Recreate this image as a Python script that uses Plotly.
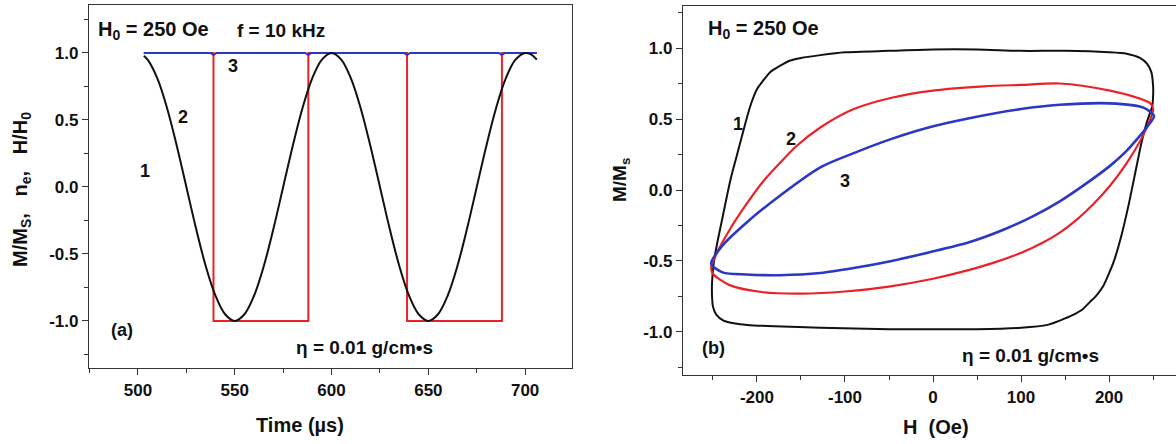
import plotly.graph_objects as go

# ---------------- Panel (a): time traces ----------------
time_black = [503, 505, 510, 515, 520, 525, 530, 535, 540, 545, 550, 555, 560, 565, 570,
              575, 580, 585, 590, 595, 600, 605, 610, 615, 620, 625, 630, 635, 640, 645,
              650, 655, 660, 665, 670, 675, 680, 685, 690, 695, 700, 703, 706]
m_black = [0.98, 0.95, 0.81, 0.59, 0.31, 0.00, -0.31, -0.59, -0.81, -0.95, -1.00, -0.95, -0.81, -0.59, -0.31,
           0.00, 0.31, 0.59, 0.81, 0.95, 1.00, 0.95, 0.81, 0.59, 0.31, 0.00, -0.31, -0.59, -0.81, -0.95,
           -1.00, -0.95, -0.81, -0.59, -0.31, 0.00, 0.31, 0.59, 0.81, 0.95, 1.00, 0.99, 0.95]

time_red = [503, 539, 539, 588, 588, 639, 639, 688, 688, 706]
ne_red = [1, 1, -1, -1, 1, 1, -1, -1, 1, 1]

time_blue = [503, 537.5, 539, 540.5, 586.5, 588, 589.5, 637.5, 639, 640.5, 686.5, 688, 689.5, 706]
h_blue = [1.0, 1.0, 0.985, 1.0, 1.0, 0.985, 1.0, 1.0, 0.985, 1.0, 1.0, 0.985, 1.0, 1.0]

time_ticks = [500, 550, 600, 650, 700]
time_tick_text = ["500", "550", "600", "650", "700"]
y_ticks = [-1.0, -0.5, 0.0, 0.5, 1.0]
y_tick_text = ["-1.0", "-0.5", "0.0", "0.5", "1.0"]

# ---------------- Panel (b): hysteresis loops ----------------
h_loop1 = [250, 248, 243, 235, 220, 200, 150, 100, 50, 0, -50, -100, -128, -150, -163, -175,
           -185, -193, -200, -206, -211, -217, -223, -229, -234, -240, -245, -249, -251, -251,
           -250, -246, -238, -225, -211, -180, -128, -50, 0, 50, 100, 130, 144, 159, 170, 178,
           186, 193, 205, 214, 222, 230, 237, 243, 249, 250, 250]
m_loop1 = [0.73, 0.83, 0.89, 0.93, 0.96, 0.97, 0.98, 0.98, 0.99, 0.99, 0.98, 0.97, 0.95, 0.93, 0.91, 0.87,
           0.83, 0.77, 0.71, 0.62, 0.52, 0.38, 0.24, 0.10, -0.04, -0.22, -0.37, -0.51, -0.65, -0.75,
           -0.82, -0.88, -0.92, -0.94, -0.95, -0.96, -0.97, -0.98, -0.98, -0.98, -0.97, -0.95, -0.92, -0.88, -0.84, -0.79,
           -0.74, -0.68, -0.51, -0.32, -0.11, 0.13, 0.34, 0.48, 0.59, 0.66, 0.73]

h_loop2 = [250, 247, 232, 201, 144, 100, 58, 0, -47, -90, -128, -155, -174, -193, -212, -231,
           -246, -252, -250, -231, -193, -150, -100, -50, 0, 37, 70, 101, 125, 144, 163,
           182, 201, 220, 239, 250]
m_loop2 = [0.57, 0.61, 0.65, 0.70, 0.75, 0.74, 0.73, 0.70, 0.65, 0.57, 0.44, 0.31, 0.19, 0.06, -0.10, -0.28,
           -0.45, -0.55, -0.59, -0.67, -0.72, -0.73, -0.715, -0.68, -0.625, -0.57, -0.51, -0.44, -0.37, -0.30, -0.21,
           -0.10, 0.03, 0.19, 0.39, 0.57]

h_loop3 = [251, 239, 201, 144, 100, 37, -5, -47, -90, -128, -174, -212, -239, -252,
           -239, -212, -174, -128, -90, -47, -5, 40, 80, 115, 144, 175, 201, 219, 232, 245, 251]
m_loop3 = [0.52, 0.58, 0.61, 0.60, 0.57, 0.50, 0.44, 0.36, 0.26, 0.16, -0.04, -0.23, -0.39, -0.52,
           -0.58, -0.595, -0.60, -0.585, -0.55, -0.50, -0.44, -0.37, -0.28, -0.18, -0.08, 0.05, 0.17, 0.27, 0.36, 0.46, 0.52]

h_ticks = [-200, -100, 0, 100, 200]
h_tick_text = ["-200", "-100", "0", "100", "200"]

W, H = 1176, 444
BLACK, RED, BLUE = "#111111", "#ea2228", "#2a38c4"
FONT = "Liberation Sans"

fig = go.Figure()
fig.add_trace(go.Scatter(x=time_red, y=ne_red, mode="lines", line=dict(color=RED, width=2),
                         xaxis="x", yaxis="y", showlegend=False))
fig.add_trace(go.Scatter(x=time_blue, y=h_blue, mode="lines", line=dict(color=BLUE, width=2),
                         xaxis="x", yaxis="y", showlegend=False))
fig.add_trace(go.Scatter(x=time_black, y=m_black, mode="lines", line=dict(color=BLACK, width=2, shape="spline"),
                         xaxis="x", yaxis="y", showlegend=False))

fig.add_trace(go.Scatter(x=h_loop1, y=m_loop1, mode="lines", line=dict(color=BLACK, width=2, shape="spline", smoothing=0.6),
                         xaxis="x2", yaxis="y2", showlegend=False))
fig.add_trace(go.Scatter(x=h_loop2, y=m_loop2, mode="lines", line=dict(color=RED, width=2.2, shape="spline", smoothing=0.8),
                         xaxis="x2", yaxis="y2", showlegend=False))
fig.add_trace(go.Scatter(x=h_loop3, y=m_loop3, mode="lines", line=dict(color=BLUE, width=2.6, shape="spline", smoothing=0.8),
                         xaxis="x2", yaxis="y2", showlegend=False))

tickfont = dict(family=FONT, size=17, color="#111", weight="bold")
axis_common = dict(showgrid=False, zeroline=False, showline=True, linecolor="#333", linewidth=1.3,
                   mirror=True, ticks="outside", ticklen=6, tickwidth=1.2, tickcolor="#333",
                   tickfont=tickfont)
minor_style = dict(ticklen=4, ticks="outside", tickcolor="#333")

fig.update_layout(
    width=W, height=H, margin=dict(l=0, r=0, t=0, b=0),
    paper_bgcolor="white", plot_bgcolor="white",
    xaxis=dict(domain=[89 / W, 572 / W], range=[474.7, 724.2], tickvals=time_ticks, ticktext=time_tick_text,
               minor=dict(dtick=25, tick0=0, **minor_style), anchor="y", **axis_common),
    yaxis=dict(domain=[1 - 368 / H, 1 - 5 / H], range=[-1.351, 1.358], tickvals=y_ticks, ticktext=y_tick_text,
               minor=dict(dtick=0.25, tick0=0, **minor_style), anchor="x", **axis_common),
    xaxis2=dict(domain=[683 / W, 1.0], range=[-284, 276], tickvals=h_ticks, ticktext=h_tick_text,
                minor=dict(dtick=50, tick0=0, **minor_style), anchor="y2", **axis_common),
    yaxis2=dict(domain=[1 - 375 / H, 1 - 6 / H], range=[-1.303, 1.296], tickvals=y_ticks, ticktext=y_tick_text,
                minor=dict(dtick=0.25, tick0=0, **minor_style), anchor="x2", **axis_common),
)


def px(x, y):
    return x / W, 1 - y / H


def label(text, x, y, size=18, xanchor="center", angle=0):
    ax, ay = px(x, y)
    fig.add_annotation(text=text, x=ax, y=ay, xref="paper", yref="paper", showarrow=False,
                       xanchor=xanchor, yanchor="middle", textangle=angle,
                       font=dict(family=FONT, size=size, color="#111", weight="bold"))


# Panel (a) texts
label("H<sub>0</sub> = 250 Oe", 96, 31, size=20, xanchor="left")
label("f = 10 kHz", 235, 31, size=19, xanchor="left")
label("3", 233, 66)
label("2", 183, 117)
label("1", 145, 171)
label("(a)", 122, 330)
label("η = 0.01 g/cm•s", 294, 347, size=19, xanchor="left")
label("Time (µs)", 300, 425, size=20)
label("M/M<sub>S</sub>,   n<sub>e</sub>,   H/H<sub>0</sub>", 21, 190, size=20, angle=-90)

# Panel (b) texts
label("H<sub>0</sub> = 250 Oe", 706, 29, size=20, xanchor="left")
label("1", 738, 124)
label("2", 791, 139)
label("3", 845, 181)
label("(b)", 713, 348)
label("η = 0.01 g/cm•s", 960, 355, size=19, xanchor="left")
label("H  (Oe)", 936, 427, size=20)
label("M/M<sub>s</sub>", 621, 180, size=19, angle=-90)

fig.write_html("out.html", config={"displayModeBar": False},
               post_script="document.body.style.margin='0';document.body.style.overflow='hidden';")
